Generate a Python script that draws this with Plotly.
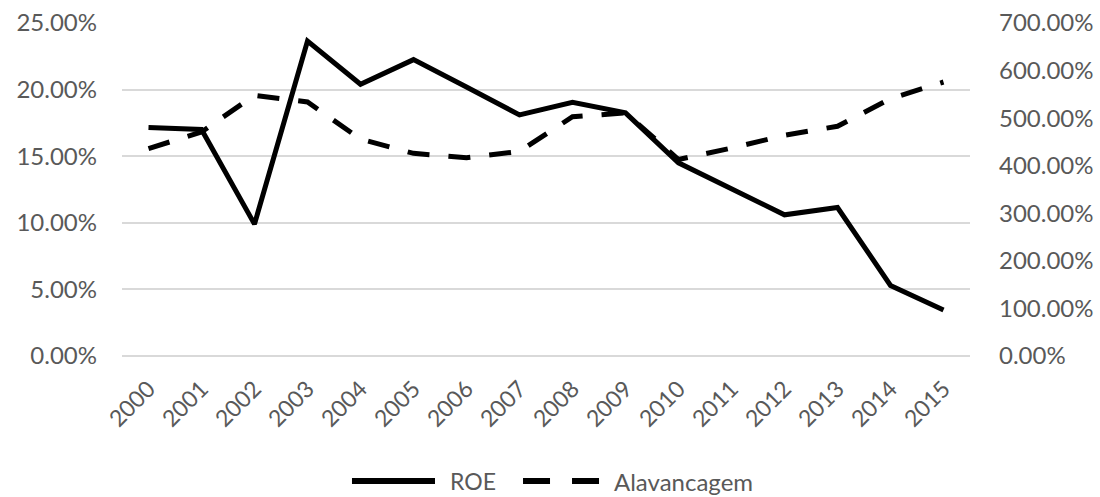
import plotly.graph_objects as go

# Anos e séries
anos = [str(a) for a in range(2000, 2016)]
roe = [0.1715, 0.1700, 0.0990, 0.2365, 0.2040, 0.2225, 0.2020, 0.1810,
       0.1905, 0.1825, 0.1450, 0.1260, 0.1060, 0.1115, 0.0530, 0.0345]
alavancagem = [4.36, 4.71, 5.48, 5.34, 4.56, 4.26, 4.17, 4.30,
               5.03, 5.11, 4.13, 4.37, 4.64, 4.83, 5.41, 5.76]

FONT = "Lato"
GRAY = "#595959"
GRID = "#d9d9d9"
FS = 24

fig = go.Figure()
fig.add_trace(go.Scatter(
    x=anos, y=roe, name="ROE", mode="lines",
    line=dict(color="black", width=5),
    yaxis="y",
))
fig.add_trace(go.Scatter(
    x=anos, y=alavancagem, name="Alavancagem", mode="lines",
    line=dict(color="black", width=5, dash="22px,19px"),
    yaxis="y2",
))

# Legenda desenhada à mão (amostras longas, como no original)
leg_y = -0.3754
shapes = [
    dict(type="line", xref="paper", yref="paper", x0=0.2712, x1=0.3691,
         y0=leg_y, y1=leg_y, line=dict(color="black", width=6)),
    dict(type="line", xref="paper", yref="paper", x0=0.4729, x1=0.5637,
         y0=leg_y, y1=leg_y, line=dict(color="black", width=6, dash="27px,22px")),
]
annotations = [
    dict(text="ROE", xref="paper", yref="paper", x=0.3855, y=leg_y,
         xanchor="left", yanchor="middle", showarrow=False, borderpad=0,
         font=dict(family=FONT, size=FS - 1, color=GRAY)),
    dict(text="Alavancagem", xref="paper", yref="paper", x=0.5790, y=leg_y,
         xanchor="left", yanchor="middle", showarrow=False, borderpad=0,
         font=dict(family=FONT, size=FS, color=GRAY)),
]

fig.update_layout(
    width=1100, height=497,
    margin=dict(l=122, r=130, t=23, b=141),
    paper_bgcolor="white", plot_bgcolor="white",
    font=dict(family=FONT, size=FS, color=GRAY),
    showlegend=False,
    shapes=shapes,
    annotations=annotations,
    xaxis=dict(
        type="category", tickangle=-45, showgrid=False,
        showline=False, ticks="", ticklabelstandoff=14,
        range=[-0.5, 15.5], automargin=False,
        tickfont=dict(family=FONT, size=FS - 1, color=GRAY),
    ),
    yaxis=dict(
        range=[0, 0.25], dtick=0.05, tickformat=".2%",
        showgrid=True, gridcolor=GRID, gridwidth=1.5,
        zeroline=True, zerolinecolor=GRID, zerolinewidth=1.5,
        showline=False, ticks="", ticklabelstandoff=24, automargin=False,
        tickfont=dict(family=FONT, size=FS, color=GRAY),
    ),
    yaxis2=dict(
        range=[0, 7], dtick=1, tickformat=".2%",
        overlaying="y", side="right", showgrid=False,
        zeroline=False, showline=False, ticks="", ticklabelstandoff=28,
        automargin=False,
        tickfont=dict(family=FONT, size=FS, color=GRAY),
    ),
)

fig.write_html("out.html")
